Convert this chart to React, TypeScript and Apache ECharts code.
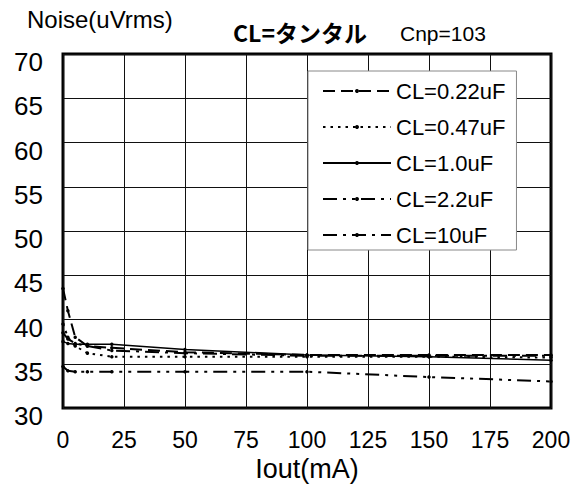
import React, { useEffect, useRef } from "react";
import * as echarts from "echarts";

const currents = [0, 2, 5, 10, 20, 50, 100, 150, 200];
const seriesNames = ["CL=0.22uF", "CL=0.47uF", "CL=1.0uF", "CL=2.2uF", "CL=10uF"];
const cl022 = [43.5, 41.0, 38.0, 37.0, 36.8, 36.3, 36.0, 36.0, 36.0];
const cl047 = [39.5, 38.0, 37.0, 36.2, 35.8, 35.8, 35.8, 35.8, 35.7];
const cl10 = [37.5, 37.3, 37.2, 37.2, 37.2, 36.6, 36.0, 35.8, 35.4];
const cl22 = [34.7, 34.2, 34.1, 34.1, 34.1, 34.1, 34.1, 33.5, 33.0];
const cl100 = [38.5, 37.8, 37.3, 37.0, 36.5, 36.2, 35.9, 35.9, 35.9];
const xTicks = [0, 25, 50, 75, 100, 125, 150, 175, 200];

const FONT = "'Liberation Sans', Arial, sans-serif";

export default function App() {
  const ref = useRef<HTMLDivElement>(null);
  useEffect(() => {
    if (!ref.current) return;
    const chart = echarts.init(ref.current, null, { renderer: "svg" });
    const values = [cl022, cl047, cl10, cl22, cl100];
    const dashes: any[] = [[12, 6], [2.5, 5], "solid", [14, 6, 3, 6, 3, 6], [14, 6, 3, 6]];
    const widths = [2, 2, 1.5, 2, 2];
    const series = seriesNames.map((name, i) => ({
      name,
      type: "line",
      data: currents.map((x, j) => [x, values[i][j]]),
      symbol: "circle",
      symbolSize: 3.5,
      showSymbol: true,
      itemStyle: { color: "#000" },
      lineStyle: { color: "#000", width: widths[i], type: dashes[i] },
    }));
    chart.setOption({
      animation: false,
      backgroundColor: "#fff",
      textStyle: { fontFamily: FONT },
      grid: {
        left: 63,
        top: 54,
        right: 28,
        bottom: 80,
        show: true,
        borderColor: "#000",
        borderWidth: 3,
        backgroundColor: "transparent",
      },
      xAxis: {
        type: "value",
        min: 0,
        max: 200,
        interval: 25,
        axisLine: { show: false },
        axisTick: { show: false },
        splitLine: { show: true, lineStyle: { color: "#111", width: 1 } },
        axisLabel: {
          fontSize: 23,
          color: "#000",
          margin: 20,
          fontFamily: FONT,
          formatter: (v: number) => (xTicks.includes(v) ? String(v) : ""),
        },
        name: "Iout(mA)",
        nameLocation: "middle",
        nameGap: 47,
        nameTextStyle: { fontSize: 27, color: "#000", fontFamily: FONT },
      },
      yAxis: {
        type: "value",
        min: 30,
        max: 70,
        interval: 5,
        axisLine: { show: false },
        axisTick: { show: false },
        splitLine: { show: true, lineStyle: { color: "#111", width: 1 } },
        axisLabel: {
          fontSize: 26,
          color: "#000",
          margin: 20,
          fontFamily: FONT,
          verticalAlign: "top",
          lineHeight: 16,
        },
      },
      legend: {
        orient: "vertical",
        left: 308,
        top: 71,
        padding: [9, 11, 4, 14],
        itemWidth: 68,
        itemHeight: 5,
        itemGap: 14,
        backgroundColor: "#fff",
        borderColor: "#888",
        borderWidth: 1,
        borderRadius: 0,
        textStyle: { fontSize: 22, color: "#000", lineHeight: 16, fontFamily: FONT },
        data: seriesNames,
      },
      graphic: [
        {
          type: "text",
          left: 27,
          top: 7,
          style: { text: "Noise(uVrms)", fontSize: 24, fill: "#000", fontFamily: FONT },
        },
        {
          type: "text",
          left: 233,
          top: 20,
          style: {
            text: "CL=タンタル",
            fontSize: 23,
            fontWeight: "bold",
            fill: "#000",
            fontFamily: "'Noto Sans CJK JP', " + FONT,
          },
        },
        {
          type: "text",
          left: 400,
          top: 23,
          style: { text: "Cnp=103", fontSize: 21, fill: "#000", fontFamily: FONT },
        },
      ],
      series,
    });
    return () => chart.dispose();
  }, []);
  return (
    <div
      ref={ref}
      style={{ position: "absolute", left: 0, top: 0, width: 579, height: 488 }}
    />
  );
}
